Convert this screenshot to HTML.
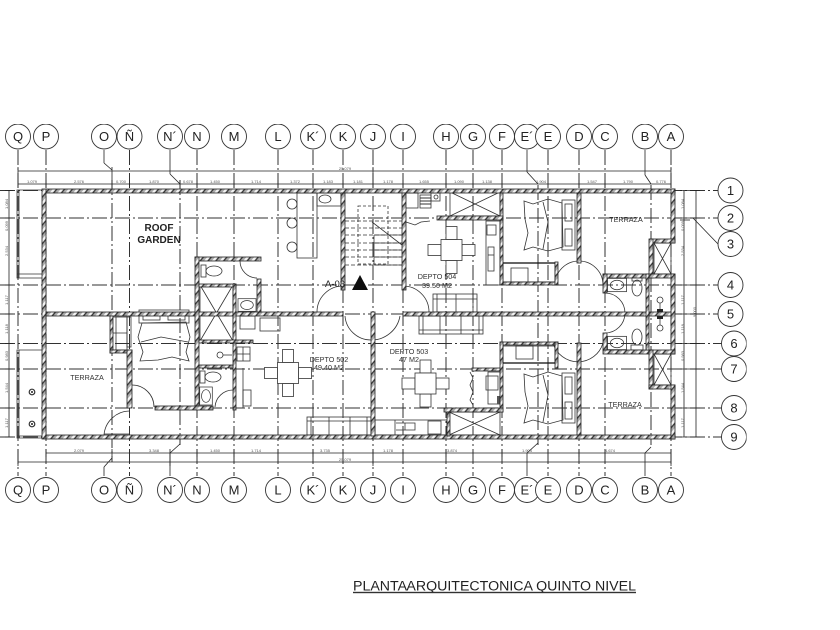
<!DOCTYPE html>
<html><head><meta charset="utf-8"><style>
html,body{margin:0;padding:0;background:#fff;width:840px;height:630px;overflow:hidden}
svg{display:block}
text{font-family:"Liberation Sans",sans-serif;fill:#222}
.gl text{font-size:13px;text-anchor:middle;fill:#222}
.gc circle{fill:#fff;stroke:#333;stroke-width:.9}
.ax line{stroke:#333;stroke-width:1;stroke-dasharray:15 3 2 3}
.d line{stroke:#222;stroke-width:.8}
.dt text{font-size:4px;text-anchor:middle;fill:#555}
.w rect{fill:url(#h);stroke:#222;stroke-width:.8}
.f *{fill:none;stroke:#333;stroke-width:.8}
.fw *{fill:#fff;stroke:#333;stroke-width:.8}
.lb{font-size:7.2px;text-anchor:middle;fill:#333}
</style></head><body>
<svg width="840" height="630" viewBox="0 0 840 630" xmlns="http://www.w3.org/2000/svg">
<defs>
<filter id="soft" x="0" y="0" width="100%" height="100%"><feGaussianBlur stdDeviation=".3"/></filter>
<pattern id="h" width="6" height="6" patternUnits="userSpaceOnUse" patternTransform="rotate(40)"><rect width="6" height="6" fill="#aaa"/><rect width="2.400" height="6" fill="#f4f4f4"/><rect x="2.400" width="1.300" height="6" fill="#333"/></pattern>
<g id="din" class="fw"><rect x="-5.500" y="-23.500" width="11" height="13"/><rect x="-5.500" y="10.500" width="11" height="13"/><rect x="-23.500" y="-5.500" width="13" height="11"/><rect x="10.500" y="-5.500" width="13" height="11"/><rect x="-10.500" y="-10.500" width="21" height="21"/></g>
<g id="bedR" class="f"><path d="M-16,-24 L-7,-21 L8,-26 L22,-22 L23,22 L8,26 L-7,22 L-16,25 L-12,8 L-15,-6 Z"/><path d="M3,-23 L8,-3 L3,24"/><rect x="25" y="-21" width="7" height="17"/><rect x="25" y="4" width="7" height="17"/><rect x="22" y="-25" width="13" height="50"/></g>
<g id="toilV" class="f"><ellipse cx="0" cy="-2" rx="5" ry="8"/><rect x="-6" y="6" width="12" height="5"/></g>
<g id="sink" class="f"><rect x="-10" y="-7" width="20" height="14"/><ellipse cx="0" cy="0" rx="7" ry="5"/></g>
</defs>
<rect width="840" height="630" fill="#fff"/>
<g filter="url(#soft)">

<g class="ax">
<line x1="18" y1="150" x2="18" y2="476"/><line x1="46" y1="150" x2="46" y2="476"/><line x1="112" y1="180" x2="112" y2="462"/><line x1="129.500" y1="150" x2="129.500" y2="476"/><line x1="180" y1="180" x2="180" y2="445"/><line x1="197" y1="150" x2="197" y2="476"/><line x1="234" y1="150" x2="234" y2="476"/><line x1="278" y1="150" x2="278" y2="476"/><line x1="313" y1="150" x2="313" y2="476"/><line x1="343" y1="150" x2="343" y2="476"/><line x1="373" y1="150" x2="373" y2="476"/><line x1="403" y1="150" x2="403" y2="476"/><line x1="446" y1="150" x2="446" y2="476"/><line x1="473" y1="150" x2="473" y2="476"/><line x1="502" y1="150" x2="502" y2="476"/><line x1="538" y1="185" x2="538" y2="445"/><line x1="548" y1="150" x2="548" y2="476"/><line x1="579" y1="150" x2="579" y2="476"/><line x1="605" y1="150" x2="605" y2="476"/><line x1="651" y1="185" x2="651" y2="445"/><line x1="671" y1="150" x2="671" y2="476"/>
<line x1="0" y1="190.500" x2="718" y2="190.500"/><line x1="0" y1="218" x2="718" y2="218"/><line x1="0" y1="285" x2="718" y2="285"/><line x1="0" y1="314" x2="718" y2="314"/><line x1="0" y1="343.500" x2="722" y2="343.500"/><line x1="0" y1="369" x2="722" y2="369"/><line x1="0" y1="408" x2="722" y2="408"/><line x1="0" y1="437" x2="722" y2="437"/>
</g>
<g class="d">
<line x1="18" y1="171" x2="671" y2="171"/><line x1="18" y1="184" x2="671" y2="184"/>
<line x1="46" y1="453" x2="671" y2="453"/><line x1="18" y1="462" x2="671" y2="462"/>
<line x1="9" y1="190" x2="9" y2="437"/><line x1="684" y1="190" x2="684" y2="437"/><line x1="696" y1="190" x2="696" y2="437"/>
<line x1="104" y1="150" x2="104" y2="163"/><line x1="104" y1="163" x2="112" y2="170"/><line x1="170" y1="150" x2="170" y2="174"/><line x1="170" y1="174" x2="180" y2="184"/><line x1="527" y1="150" x2="527" y2="172"/><line x1="527" y1="172" x2="538" y2="184"/><line x1="645" y1="150" x2="645" y2="175"/><line x1="645" y1="175" x2="651" y2="184"/>
<line x1="180" y1="444" x2="170" y2="453"/><line x1="170" y1="453" x2="170" y2="476"/><line x1="112" y1="458" x2="104" y2="467"/><line x1="104" y1="467" x2="104" y2="476"/><line x1="538" y1="443" x2="527" y2="453"/><line x1="527" y1="453" x2="527" y2="476"/><line x1="651" y1="447" x2="645" y2="453"/><line x1="645" y1="453" x2="645" y2="476"/>
<line x1="693" y1="218" x2="718" y2="244"/>
<line x1="18" y1="167" x2="18" y2="188" stroke-width="1.400"/><line x1="46" y1="180" x2="46" y2="188"/><line x1="112" y1="167" x2="112" y2="188"/><line x1="129.500" y1="180" x2="129.500" y2="188"/><line x1="180" y1="180" x2="180" y2="188"/><line x1="197" y1="180" x2="197" y2="188"/><line x1="234" y1="180" x2="234" y2="188"/><line x1="278" y1="180" x2="278" y2="188"/><line x1="313" y1="180" x2="313" y2="188"/><line x1="343" y1="180" x2="343" y2="188"/><line x1="373" y1="167" x2="373" y2="188"/><line x1="403" y1="180" x2="403" y2="188"/><line x1="446" y1="180" x2="446" y2="188"/><line x1="473" y1="180" x2="473" y2="188"/><line x1="502" y1="180" x2="502" y2="188"/><line x1="579" y1="180" x2="579" y2="188"/><line x1="605" y1="180" x2="605" y2="188"/><line x1="671" y1="167" x2="671" y2="188"/>
<line x1="18" y1="449" x2="18" y2="466"/><line x1="46" y1="449" x2="46" y2="457"/><line x1="112" y1="449" x2="112" y2="457"/><line x1="170" y1="449" x2="170" y2="466"/><line x1="197" y1="449" x2="197" y2="457"/><line x1="234" y1="449" x2="234" y2="457"/><line x1="373" y1="449" x2="373" y2="466"/><line x1="313" y1="449" x2="313" y2="457"/><line x1="446" y1="449" x2="446" y2="457"/><line x1="502" y1="449" x2="502" y2="457"/><line x1="579" y1="449" x2="579" y2="457"/><line x1="671" y1="449" x2="671" y2="466"/>
<line x1="5" y1="190.500" x2="13" y2="190.500"/><line x1="5" y1="218" x2="13" y2="218"/><line x1="5" y1="285" x2="13" y2="285"/><line x1="5" y1="314" x2="13" y2="314"/><line x1="5" y1="343.500" x2="13" y2="343.500"/><line x1="5" y1="369" x2="13" y2="369"/><line x1="5" y1="408" x2="13" y2="408"/><line x1="5" y1="437" x2="13" y2="437"/>
<line x1="680" y1="190.500" x2="700" y2="190.500"/><line x1="680" y1="218" x2="700" y2="218"/><line x1="680" y1="220" x2="690" y2="220"/><line x1="680" y1="285" x2="700" y2="285"/><line x1="680" y1="314" x2="700" y2="314"/><line x1="680" y1="343.500" x2="700" y2="343.500"/><line x1="680" y1="369" x2="700" y2="369"/><line x1="680" y1="408" x2="700" y2="408"/><line x1="680" y1="437" x2="700" y2="437"/>
</g>
<g class="dt">
<text x="32" y="183">1.079</text><text x="79" y="183">2.576</text><text x="121" y="183">0.700</text><text x="154" y="183">1.870</text><text x="188" y="183">0.678</text><text x="215" y="183">1.450</text><text x="256" y="183">1.714</text><text x="295" y="183">1.372</text><text x="328" y="183">1.183</text><text x="358" y="183">1.181</text><text x="388" y="183">1.178</text><text x="424" y="183">1.655</text><text x="459" y="183">1.090</text><text x="487" y="183">1.138</text><text x="541" y="183">1.904</text><text x="592" y="183">1.547</text><text x="628" y="183">1.790</text><text x="661" y="183">0.776</text><text x="345" y="170">25.079</text>
<text x="79" y="452">2.079</text><text x="154" y="452">3.348</text><text x="215" y="452">1.450</text><text x="256" y="452">1.714</text><text x="325" y="452">3.735</text><text x="388" y="452">1.178</text><text x="452" y="452">3.874</text><text x="527" y="452">1.904</text><text x="610" y="452">4.674</text><text x="345" y="461">25.079</text>
<text transform="translate(8,204) rotate(-90)">1.084</text><text transform="translate(8,226) rotate(-90)">0.099</text><text transform="translate(8,251) rotate(-90)">2.534</text><text transform="translate(8,300) rotate(-90)">1.117</text><text transform="translate(8,329) rotate(-90)">1.118</text><text transform="translate(8,356) rotate(-90)">0.983</text><text transform="translate(8,388) rotate(-90)">1.544</text><text transform="translate(8,423) rotate(-90)">1.117</text>
<text transform="translate(684,204) rotate(-90)">1.084</text><text transform="translate(684,226) rotate(-90)">0.099</text><text transform="translate(684,251) rotate(-90)">2.534</text><text transform="translate(684,300) rotate(-90)">1.117</text><text transform="translate(684,329) rotate(-90)">1.118</text><text transform="translate(684,356) rotate(-90)">0.983</text><text transform="translate(684,388) rotate(-90)">1.544</text><text transform="translate(684,423) rotate(-90)">1.117</text><text transform="translate(696,312) rotate(-90)">9.000</text>
</g>

<g class="f"><path d="M42,190 H17 V278 H42"/><path d="M19,190 V278 M17,274 H42"/><path d="M42,350 H17 V438 H42"/><path d="M19,350 V436"/><path d="M17,436 H42"/>
<circle cx="32" cy="392" r="2.800" style="stroke-width:1.200"/><circle cx="32" cy="424" r="2.800" style="stroke-width:1.200"/></g>
<circle cx="32" cy="392" r="1" fill="#222"/><circle cx="32" cy="424" r="1" fill="#222"/>

<g class="f">
<rect x="200" y="285" width="33" height="56"/><path d="M200,285 L233,341 M233,285 L200,341"/>
<rect x="450" y="192" width="50" height="24"/><path d="M450,192 L500,216 M500,192 L450,216"/>
<rect x="449" y="412" width="51" height="23"/><path d="M449,435 L500,412 M500,435 L449,412"/>
<rect x="654" y="243" width="17" height="31"/><path d="M654,243 L671,274 M671,243 L654,274"/>
<rect x="654" y="354" width="17" height="31"/><path d="M654,354 L671,385 M671,354 L654,385"/>
<path d="M343,286 A26,26 0 0 0 317,312"/><path d="M371,340 A26,26 0 0 1 345,316"/><path d="M371,340 A29,29 0 0 0 400,316"/><path d="M403,286 A26,26 0 0 1 429,312"/>
<path d="M132,385 A22,22 0 0 1 154,407"/><path d="M104,435 A26,26 0 0 1 130,411"/><path d="M104,434 H130"/><path d="M215,407 A18,18 0 0 1 233,390"/><path d="M240,261 A17,17 0 0 0 257,278"/>
<path d="M605,293 A20,20 0 0 1 605,333"/><path d="M555,285 A24,24 0 0 1 603,285"/><path d="M553,343 A26,26 0 0 0 603,343"/>
<path d="M470,372 L473,378 L470,385 L473,392 L470,400 L473,405"/><path d="M406,222 L415,225 L421,222 L430,221"/>
</g>

<g class="f">
<circle cx="292" cy="204" r="5"/><circle cx="292" cy="223" r="5"/><circle cx="292" cy="247" r="5"/>
<rect x="297" y="193" width="20" height="65"/>
<rect x="317" y="193" width="24" height="13"/><ellipse cx="325" cy="199" rx="6" ry="4"/>
<rect x="358" y="206" width="30" height="58" style="stroke-dasharray:3 2"/>
<path d="M345,221 H402 M345,228 H402 M345,235 H402 M345,243 H402 M345,250 H402 M345,257 H402 M345,265 H402" style="stroke-dasharray:4 2"/>
<path d="M374,235 H402 M374,243 H402 M374,250 H402 M374,257 H402 M374,265 H402 M374,235 V265 M372,222 L402,245"/>
<rect x="405" y="193" width="13" height="15"/><rect x="431" y="193" width="9" height="8"/><circle cx="436" cy="197" r="2"/>
<rect x="433" y="294" width="44" height="18"/><path d="M437,294 V312 M456,294 V312 M473,294 V312 M433,299 H477"/>
<rect x="419" y="316" width="64" height="18"/><path d="M423,316 V334 M440,316 V334 M461,316 V334 M479,316 V334 M419,330 H483"/>
<rect x="307" y="417" width="64" height="18"/><path d="M311,417 V435 M329,417 V435 M350,417 V435 M367,417 V435 M307,421 H371"/>
<rect x="375" y="420" width="72" height="15"/><path d="M395,420 V435 M396,423 H415 V430 H396 M405,423 V430"/>
<rect x="428" y="421" width="13" height="13"/>
<rect x="486" y="221" width="14" height="64"/><rect x="487" y="225" width="9" height="10"/><rect x="488" y="247" width="6" height="24"/><path d="M488,255 H494"/>
<rect x="503" y="263" width="52" height="19"/><rect x="511" y="268" width="17" height="14"/>
<rect x="503" y="346" width="52" height="17"/><rect x="516" y="346" width="17" height="13"/>
<rect x="488" y="372" width="12" height="32"/><rect x="486" y="376" width="12" height="14"/>
<rect x="111" y="317" width="16" height="33"/><path d="M111,333 H127 M116,317 V350"/><rect x="127" y="317" width="4" height="30"/>
<rect x="240" y="316" width="15" height="13"/><rect x="260" y="318" width="20" height="13"/>
<rect x="237" y="347" width="13" height="14"/><path d="M237,354 H250 M243,347 V361"/>
<path d="M243,368 V408"/><rect x="243" y="390" width="8" height="16"/>
<rect x="420" y="195" width="11" height="13"/><path d="M420,198 H431 M420,201 H431 M420,204 H431" style="stroke-width:1.100"/>
</g>
<rect x="497" y="396" width="3" height="8" fill="#555"/>

<use href="#din" x="451.500" y="250"/>
<use href="#din" x="425.500" y="383.500"/>
<use href="#din" x="288" y="373"/>
<g transform="translate(540,225)"><use href="#bedR"/></g>
<g transform="translate(540,398)"><use href="#bedR"/></g>
<g transform="translate(164,345) rotate(-90)"><use href="#bedR"/></g>

<g class="f">
<g transform="translate(212,271) rotate(90)"><use href="#toilV"/></g>
<g transform="translate(211,377) rotate(90)"><use href="#toilV"/></g>
<g transform="translate(206,396) rotate(90) scale(.9)"><use href="#sink"/></g>
<g transform="translate(247,305) scale(.9)"><use href="#sink"/></g>
<g transform="translate(617,285) scale(.95)"><use href="#sink"/></g>
<g transform="translate(617,343) scale(.95)"><use href="#sink"/></g>
<g transform="translate(637,288)"><ellipse cx="0" cy="0" rx="5" ry="8"/><rect x="-5" y="-12" width="10" height="5"/></g>
<g transform="translate(637,339)"><use href="#toilV"/></g>
<circle cx="660" cy="300" r="3"/><circle cx="660" cy="328" r="3"/><path d="M660,303 V325"/><circle cx="220" cy="355" r="3"/><path d="M223,355 H232"/>
</g>
<rect x="657" y="309" width="6" height="10" fill="#222"/>

<g class="w">
<rect x="46" y="189" width="629" height="4"/>
<rect x="42" y="189" width="4" height="250"/>
<rect x="46" y="435" width="629" height="4"/>
<rect x="671" y="189" width="4" height="54"/><rect x="650" y="239" width="25" height="4"/><rect x="649" y="239" width="4" height="39"/>
<rect x="603" y="274" width="72" height="4"/><rect x="671" y="274" width="4" height="80"/><rect x="603" y="350" width="50" height="4"/><rect x="650" y="350" width="25" height="4"/><rect x="649" y="350" width="4" height="39"/><rect x="649" y="385" width="26" height="4"/><rect x="671" y="385" width="4" height="54"/>
<rect x="46" y="312" width="297" height="4"/><rect x="403" y="312" width="268" height="4"/>
<rect x="371" y="312" width="4" height="124"/>
<rect x="341" y="193" width="4" height="97"/><rect x="402" y="193" width="4" height="97"/>
<rect x="500" y="193" width="3" height="92"/><rect x="437" y="216" width="66" height="4"/>
<rect x="577" y="193" width="4" height="70"/><rect x="577" y="343" width="4" height="92"/>
<rect x="503" y="282" width="52" height="3"/><rect x="500" y="342" width="58" height="3"/><rect x="500" y="342" width="3" height="70"/><rect x="555" y="262" width="3" height="23"/><rect x="555" y="342" width="3" height="26"/>
<rect x="472" y="368" width="28" height="3"/><rect x="444" y="408" width="59" height="4"/><rect x="447" y="412" width="3" height="24"/>
<rect x="603" y="274" width="4" height="19"/><rect x="603" y="333" width="4" height="17"/><rect x="646" y="274" width="3" height="76"/>
<rect x="195" y="257" width="66" height="4"/><rect x="195" y="257" width="4" height="150"/><rect x="199" y="284" width="37" height="3"/><rect x="233" y="284" width="3" height="126"/><rect x="257" y="279" width="4" height="33"/>
<rect x="199" y="340" width="54" height="3"/><rect x="199" y="365" width="34" height="3"/>
<rect x="155" y="406" width="58" height="4"/><rect x="110" y="316" width="3" height="37"/><rect x="110" y="350" width="22" height="3"/><rect x="127" y="350" width="5" height="58"/>
</g>
<path d="M352,290 L360,275 L368,290 Z" fill="#111"/>
<path d="M503,263 H555 M503,363 H555" stroke="#111" stroke-width="1.300" fill="none"/>

<text x="159" y="231" text-anchor="middle" style="font-size:10px;font-weight:bold">ROOF</text>
<text x="159" y="243" text-anchor="middle" style="font-size:10px;font-weight:bold">GARDEN</text>
<text x="87" y="380" class="lb">TERRAZA</text>
<text x="626" y="222" class="lb">TERRAZA</text>
<text x="625" y="407" class="lb">TERRAZA</text>
<text x="437" y="279" class="lb">DEPTO 504</text><text x="437" y="288" class="lb">39.50 M2</text>
<text x="409" y="354" class="lb">DEPTO 503</text><text x="409" y="362" class="lb">47 M2</text>
<text x="329" y="362" class="lb">DEPTO 502</text><text x="329" y="370" class="lb">49.40 M2</text>
<text x="325" y="287" style="font-size:9.500px">A-03</text>

<g class="gc">
<circle cx="18" cy="136.500" r="12.500"/><circle cx="46" cy="136.500" r="12.500"/><circle cx="104" cy="136.500" r="12.500"/><circle cx="129.500" cy="136.500" r="12.500"/><circle cx="170" cy="136.500" r="12.500"/><circle cx="197" cy="136.500" r="12.500"/><circle cx="234" cy="136.500" r="12.500"/><circle cx="278" cy="136.500" r="12.500"/><circle cx="313" cy="136.500" r="12.500"/><circle cx="343" cy="136.500" r="12.500"/><circle cx="373" cy="136.500" r="12.500"/><circle cx="403" cy="136.500" r="12.500"/><circle cx="446" cy="136.500" r="12.500"/><circle cx="473" cy="136.500" r="12.500"/><circle cx="502" cy="136.500" r="12.500"/><circle cx="527" cy="136.500" r="12.500"/><circle cx="548" cy="136.500" r="12.500"/><circle cx="579" cy="136.500" r="12.500"/><circle cx="605" cy="136.500" r="12.500"/><circle cx="645" cy="136.500" r="12.500"/><circle cx="671" cy="136.500" r="12.500"/>
<circle cx="18" cy="490" r="12.500"/><circle cx="46" cy="490" r="12.500"/><circle cx="104" cy="490" r="12.500"/><circle cx="129.500" cy="490" r="12.500"/><circle cx="170" cy="490" r="12.500"/><circle cx="197" cy="490" r="12.500"/><circle cx="234" cy="490" r="12.500"/><circle cx="278" cy="490" r="12.500"/><circle cx="313" cy="490" r="12.500"/><circle cx="343" cy="490" r="12.500"/><circle cx="373" cy="490" r="12.500"/><circle cx="403" cy="490" r="12.500"/><circle cx="446" cy="490" r="12.500"/><circle cx="473" cy="490" r="12.500"/><circle cx="502" cy="490" r="12.500"/><circle cx="527" cy="490" r="12.500"/><circle cx="548" cy="490" r="12.500"/><circle cx="579" cy="490" r="12.500"/><circle cx="605" cy="490" r="12.500"/><circle cx="645" cy="490" r="12.500"/><circle cx="671" cy="490" r="12.500"/>
<circle cx="730.500" cy="190.500" r="12.500"/><circle cx="730.500" cy="218" r="12.500"/><circle cx="730.500" cy="244" r="12.500"/><circle cx="730.500" cy="285" r="12.500"/><circle cx="730.500" cy="314" r="12.500"/><circle cx="734" cy="343.500" r="12.500"/><circle cx="734" cy="369" r="12.500"/><circle cx="734" cy="408" r="12.500"/><circle cx="734" cy="437" r="12.500"/>
</g>
<g class="gl">
<text x="18" y="141">Q</text><text x="46" y="141">P</text><text x="104" y="141">O</text><text x="129.500" y="141">Ñ</text><text x="170" y="141">N´</text><text x="197" y="141">N</text><text x="234" y="141">M</text><text x="278" y="141">L</text><text x="313" y="141">K´</text><text x="343" y="141">K</text><text x="373" y="141">J</text><text x="403" y="141">I</text><text x="446" y="141">H</text><text x="473" y="141">G</text><text x="502" y="141">F</text><text x="527" y="141">E´</text><text x="548" y="141">E</text><text x="579" y="141">D</text><text x="605" y="141">C</text><text x="645" y="141">B</text><text x="671" y="141">A</text>
<text x="18" y="494.500">Q</text><text x="46" y="494.500">P</text><text x="104" y="494.500">O</text><text x="129.500" y="494.500">Ñ</text><text x="170" y="494.500">N´</text><text x="197" y="494.500">N</text><text x="234" y="494.500">M</text><text x="278" y="494.500">L</text><text x="313" y="494.500">K´</text><text x="343" y="494.500">K</text><text x="373" y="494.500">J</text><text x="403" y="494.500">I</text><text x="446" y="494.500">H</text><text x="473" y="494.500">G</text><text x="502" y="494.500">F</text><text x="527" y="494.500">E´</text><text x="548" y="494.500">E</text><text x="579" y="494.500">D</text><text x="605" y="494.500">C</text><text x="645" y="494.500">B</text><text x="671" y="494.500">A</text>
<text x="730.500" y="195">1</text><text x="730.500" y="222.500">2</text><text x="730.500" y="248.500">3</text><text x="730.500" y="289.500">4</text><text x="730.500" y="318.500">5</text><text x="734" y="348">6</text><text x="734" y="373.500">7</text><text x="734" y="412.500">8</text><text x="734" y="441.500">9</text>
</g>
<text x="353" y="590.500" style="font-size:13.500px;fill:#222" textLength="283" lengthAdjust="spacingAndGlyphs">PLANTA<tspan dx="-3"> ARQUITECTONICA QUINTO NIVEL</tspan></text>
<rect x="353" y="591.800" width="283" height="1.400" fill="#333"/>
</g>
</svg>
</body></html>
